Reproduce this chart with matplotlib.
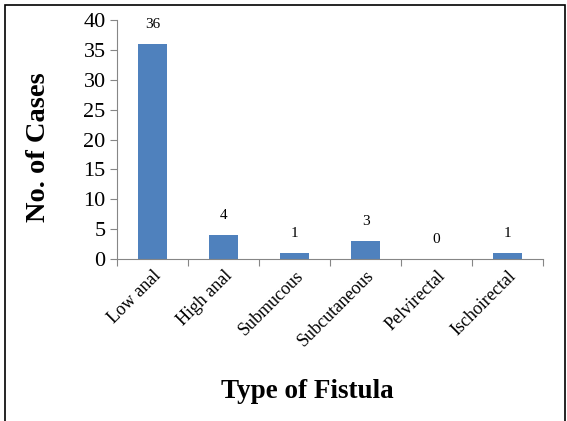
import matplotlib.pyplot as plt
from matplotlib.patches import Rectangle
import numpy as np

categories = ["Low anal", "High anal", "Submucous", "Subcutaneous", "Pelvirectal", "Ischoirectal"]
cases = [36, 4, 1, 3, 0, 1]
yticks = [0, 5, 10, 15, 20, 25, 30, 35, 40]

plt.rcParams['font.family'] = ['Liberation Serif', 'DejaVu Serif']

fig = plt.figure(figsize=(5.67, 4.21), dpi=100)
ax = fig.add_axes([0.206, 0.385, 0.752, 0.567])

x = np.arange(len(categories))
ax.bar(x, cases, width=0.4, color='#4F81BD')
for xi, v in zip(x, cases):
    ax.text(xi, v + 2.2, str(v), ha='center', va='bottom', fontsize=11)

ax.set_xlim(-0.5, len(categories) - 0.5)
ax.set_ylim(0, 40)
ax.set_yticks(yticks)
ax.tick_params(axis='y', labelsize=16, color='#868686', length=5, pad=3)
ax.set_xticks(np.arange(len(categories) + 1) - 0.5)
ax.set_xticklabels([])
ax.tick_params(axis='x', color='#868686', length=5)
ax.set_xticks(x, minor=True)
ax.set_xticklabels(categories, minor=True, rotation=45, ha='right', rotation_mode='anchor', fontsize=13)
ax.tick_params(axis='x', which='minor', length=0, pad=6)

for s in ['top', 'right']:
    ax.spines[s].set_visible(False)
for s in ['left', 'bottom']:
    ax.spines[s].set_color('#868686')

ax.set_ylabel('No. of Cases', fontsize=20.5, fontweight='bold')
ax.yaxis.set_label_coords(-0.155, 0.47)
fig.text(0.542, 0.07, 'Type of Fistula', fontsize=19.5, fontweight='bold', ha='center', va='center')

fig.patches.append(Rectangle((0.009, -0.01), 0.988, 0.998, transform=fig.transFigure,
                             fill=False, edgecolor='black', linewidth=1.2))

fig.savefig('out.png', dpi=100)
